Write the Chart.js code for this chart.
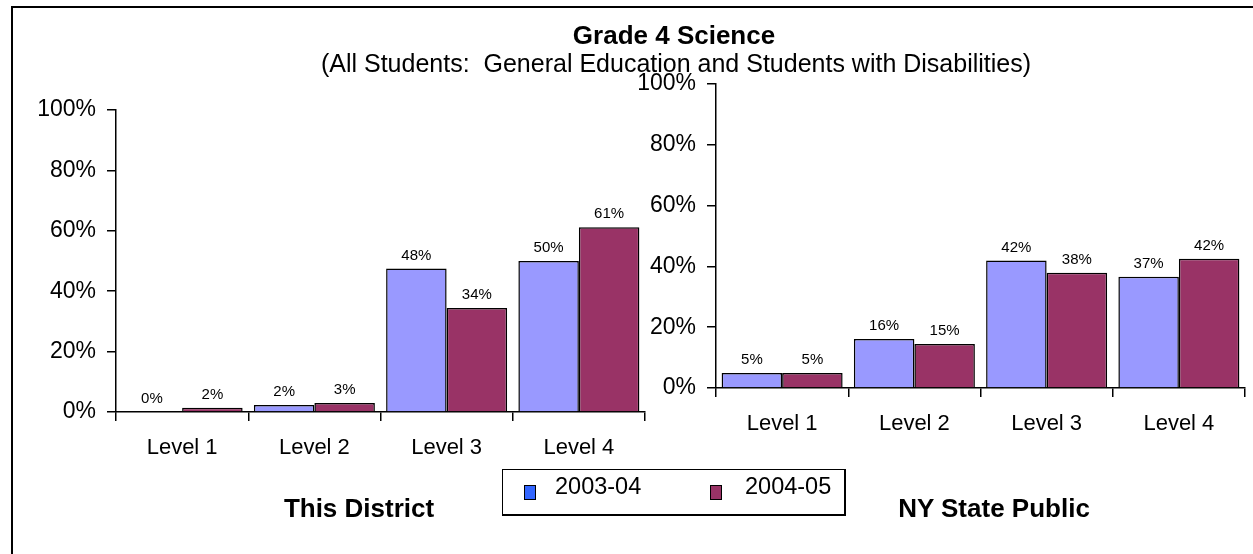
<!DOCTYPE html>
<html>
<head>
<meta charset="utf-8">
<script src="https://cdn.jsdelivr.net/npm/chart.js@4.4.1/dist/chart.umd.min.js"></script>
<style>
html,body{margin:0;padding:0;background:#fff;width:1253px;height:554px;overflow:hidden;font-family:"Liberation Sans",Arial,sans-serif;}
#frame{position:absolute;left:11px;top:6px;width:1400px;height:700px;border-left:2px solid #000;border-top:2px solid #000;}
canvas{position:absolute;top:0;}
#c1{left:0;}
#c2{left:600px;}
.t{position:absolute;white-space:nowrap;color:#000;}
#title{left:674px;top:22px;font-size:26px;line-height:26px;font-weight:bold;transform:translateX(-50%);}
#subtitle{left:676px;top:51px;font-size:25px;line-height:25px;transform:translateX(-50%);}
.panel{top:495px;font-size:26px;line-height:26px;font-weight:bold;transform:translateX(-50%);}
#legend{position:absolute;left:502px;top:469px;width:344px;height:47px;border:1.5px solid #000;border-right-width:2px;border-bottom-width:2px;box-sizing:border-box;background:#fff;}
.sw{position:absolute;width:12px;height:15px;border:1px solid #000;box-sizing:border-box;top:15px;}
.lt{position:absolute;top:5px;font-size:23.5px;line-height:23.5px;white-space:nowrap;}
</style>
</head>
<body>
<div id="frame"></div>
<canvas id="c1" width="665" height="554"></canvas>
<canvas id="c2" width="653" height="554"></canvas>
<div class="t" id="title">Grade 4 Science</div>
<div class="t" id="subtitle">(All Students:&nbsp; General Education and Students with Disabilities)</div>
<div class="t panel" id="p1" style="left:359px;">This District</div>
<div class="t panel" id="p2" style="left:994px;">NY State Public</div>
<div id="legend">
  <div class="sw" id="sw1" style="left:21px;"></div>
  <div class="lt" id="lt1" style="left:52px;"></div>
  <div class="sw" id="sw2" style="left:207px;"></div>
  <div class="lt" id="lt2" style="left:242px;"></div>
</div>
<script>
// ---- data ----
const categories = ["Level 1", "Level 2", "Level 3", "Level 4"];
const seriesNames = ["2003-04", "2004-05"];
const yTicks = [0, 20, 40, 60, 80, 100];

const districtValues0304 = [0, 2.3, 47.5, 50.0];
const districtValues0405 = [1.4, 3.0, 34.4, 61.2];
const districtLabels0304 = ["0%", "2%", "48%", "50%"];
const districtLabels0405 = ["2%", "3%", "34%", "61%"];

const stateValues0304 = [4.9, 16.1, 41.9, 36.6];
const stateValues0405 = [4.9, 14.5, 37.9, 42.5];
const stateLabels0304 = ["5%", "16%", "42%", "37%"];
const stateLabels0405 = ["5%", "15%", "38%", "42%"];

// ---- styling ----
const FONT = '"Liberation Sans", Arial, sans-serif';
const barColors = ["#9999FF", "#993366"];
const legendSwatchColors = ["#3366FF", "#993366"];

document.getElementById('lt1').textContent = seriesNames[0];
document.getElementById('lt2').textContent = seriesNames[1];
document.getElementById('sw1').style.background = legendSwatchColors[0];
document.getElementById('sw2').style.background = legendSwatchColors[1];

const valueLabels = {
  id: 'valueLabels',
  afterDatasetsDraw(chart) {
    const ctx = chart.ctx;
    ctx.save();
    ctx.font = '15px ' + FONT;
    ctx.fillStyle = '#000';
    ctx.textAlign = 'center';
    ctx.textBaseline = 'alphabetic';
    chart.data.datasets.forEach((ds, i) => {
      const meta = chart.getDatasetMeta(i);
      meta.data.forEach((el, j) => {
        ctx.fillText(ds.valueLabels[j], el.x, el.y - 9);
      });
    });
    ctx.restore();
  }
};

function makeChart(id, v1, v2, l1, l2, padding) {
  const mk = (vals, labs, k) => ({
    label: seriesNames[k],
    data: vals,
    valueLabels: labs,
    backgroundColor: barColors[k],
    borderColor: '#000',
    borderWidth: 1.5,
    borderSkipped: 'bottom',
    barPercentage: 1.0,
    categoryPercentage: 0.915
  });
  return new Chart(document.getElementById(id), {
    type: 'bar',
    data: { labels: categories, datasets: [mk(v1, l1, 0), mk(v2, l2, 1)] },
    options: {
      responsive: false,
      animation: false,
      devicePixelRatio: 1,
      layout: { padding: padding },
      plugins: { legend: { display: false }, tooltip: { enabled: false } },
      scales: {
        x: {
          afterFit: s => { s.height = 60; },
          grid: { offset: true, drawOnChartArea: false, drawTicks: true, tickLength: 9, color: '#000', lineWidth: 1.5 },
          border: { display: true, color: '#000', width: 1.5 },
          ticks: { color: '#000', font: { family: FONT, size: 22 }, padding: 14, maxRotation: 0 }
        },
        y: {
          min: 0, max: 100,
          afterFit: s => { s.width = 116; },
          afterBuildTicks: s => { s.ticks = yTicks.map(v => ({ value: v })); },
          grid: { drawOnChartArea: false, drawTicks: true, tickLength: 9, color: '#000', lineWidth: 1.5 },
          border: { display: true, color: '#000', width: 1.5 },
          ticks: { color: '#000', font: { family: FONT, size: 23 }, padding: 11, callback: v => v + '%' }
        }
      }
    },
    plugins: [valueLabels]
  });
}

makeChart('c1', districtValues0304, districtValues0405, districtLabels0304, districtLabels0405,
  { left: 0, right: 20, top: 110, bottom: 82 });
makeChart('c2', stateValues0304, stateValues0405, stateLabels0304, stateLabels0405,
  { left: 0, right: 8, top: 84, bottom: 106 });
</script>
</body>
</html>
